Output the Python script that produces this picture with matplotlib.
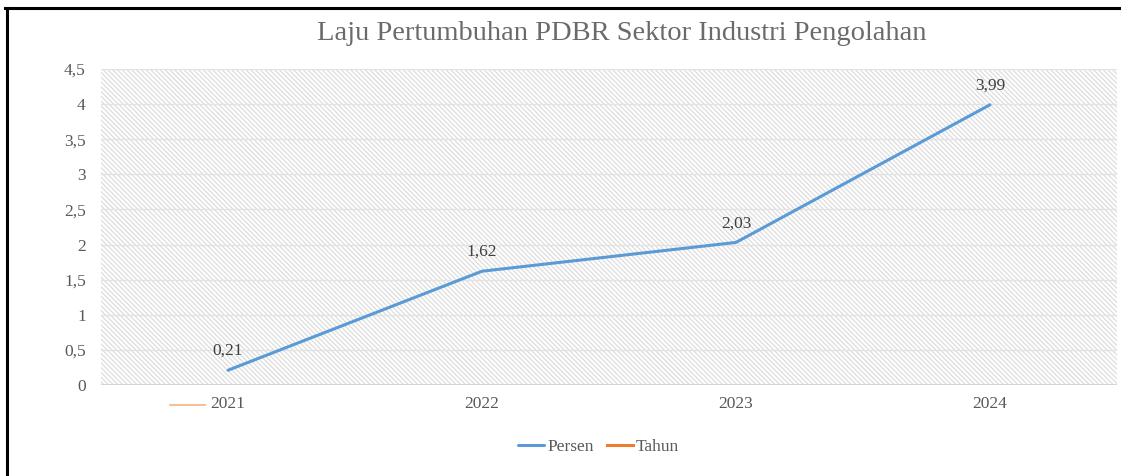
import matplotlib.pyplot as plt
from matplotlib.lines import Line2D
from matplotlib.patches import Rectangle
from matplotlib.transforms import ScaledTranslation
import numpy as np

# data
tahun = ['2021', '2022', '2023', '2024']
persen = [0.21, 1.62, 2.03, 3.99]
tahun_nilai = [2021, 2022, 2023, 2024]
yticks = [0, 0.5, 1, 1.5, 2, 2.5, 3, 3.5, 4, 4.5]
ytick_labels = ['0', '0,5', '1', '1,5', '2', '2,5', '3', '3,5', '4', '4,5']

plt.rcParams['font.family'] = ['Liberation Serif', 'DejaVu Serif']
plt.rcParams['hatch.linewidth'] = 0.9
abu = '#595959'

fig = plt.figure(figsize=(11.21, 4.76), dpi=100)
ax = fig.add_axes([0.0901, 0.1912, 0.9063, 0.6639])

x = np.arange(len(tahun))

# background hatch
bg = Rectangle((0, 0), 1, 1, transform=ax.transAxes, facecolor='white',
               edgecolor='#dddddd', hatch='\\' * 7, linewidth=0, zorder=0)
ax.add_patch(bg)

for y in yticks[1:]:
    ax.axhline(y, color='#e3e3e3', lw=1, zorder=1)
ax.axhline(0, color='#d0d0d0', lw=1.2, zorder=1)

ax.plot(x, persen, color='#5B9BD5', lw=2.2, label='Persen', zorder=3,
        solid_capstyle='round')
ax.plot(x, tahun_nilai, color='#ED7D31', lw=2.2, label='Tahun', zorder=3)

for xi, v in zip(x, persen):
    ax.annotate(f'{v:.2f}'.replace('.', ','), (xi, v), xytext=(0, 8),
                textcoords='offset points', ha='center', va='bottom',
                fontsize=12.5, color='#404040')

ax.set_xlim(-0.5, 3.5)
ax.set_ylim(0, 4.5)
ax.set_xticks(x)
ax.set_xticklabels(tahun)
ax.set_yticks(yticks)
ax.set_yticklabels(ytick_labels)
ax.tick_params(length=0, labelsize=12.5, labelcolor=abu)
ax.tick_params(axis='x', pad=8)
ax.tick_params(axis='y', pad=11)
for s in ax.spines.values():
    s.set_visible(False)

# small orange stroke beside the first category label
off = ScaledTranslation(0, -20 / 100, fig.dpi_scale_trans)
ax.add_line(Line2D([-0.23, -0.09], [0, 0], color='#F4B183', lw=1.2,
                   transform=ax.transData + off, clip_on=False))

fig.text(0.555, 0.93, 'Laju Pertumbuhan PDBR Sektor Industri Pengolahan',
         ha='center', va='center', fontsize=20.5, color='#6a6a6a')

ax.legend(loc='center', bbox_to_anchor=(0.49, -0.195), ncol=2, frameon=False,
          fontsize=12.5, labelcolor=abu, handlelength=1.5, handletextpad=0.15,
          columnspacing=0.8)

# frame lines at top and left
fig.add_artist(Line2D([5 / 1121, 1], [1 - 7.5 / 476] * 2, color='black', lw=2.2))
fig.add_artist(Line2D([7 / 1121] * 2, [0, 1 - 7.5 / 476], color='black', lw=2.2))

fig.savefig('out.png', dpi=100)
